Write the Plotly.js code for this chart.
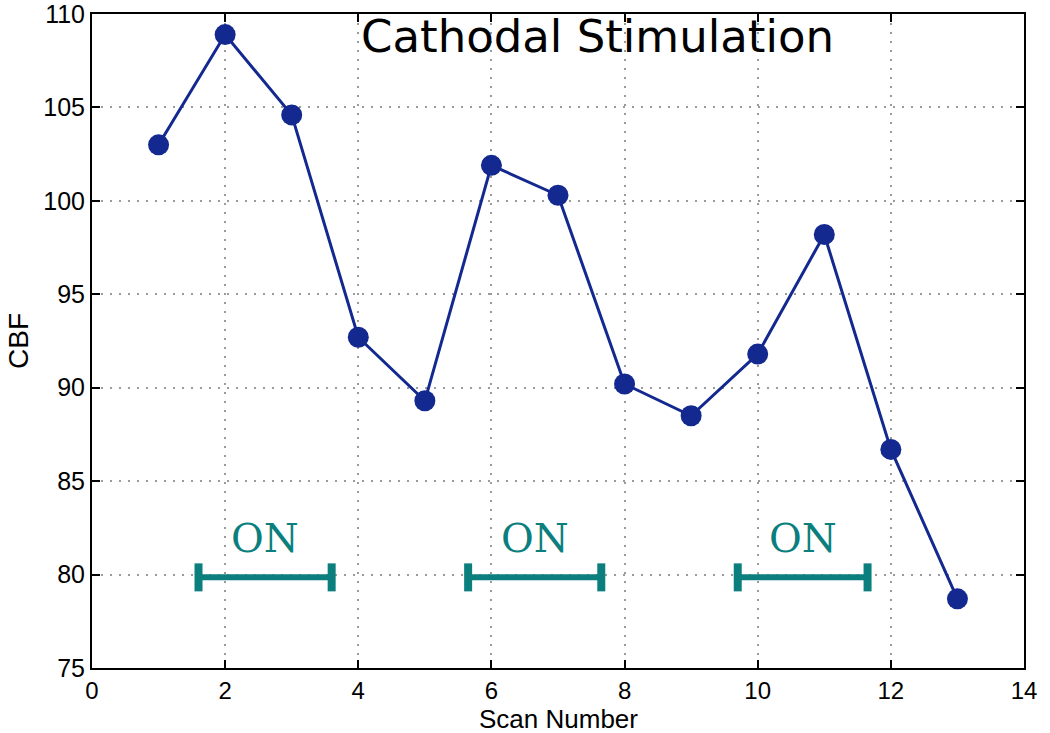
<!DOCTYPE html>
<html><head><meta charset="utf-8">
<script src="https://cdn.plot.ly/plotly-3.0.1.min.js"></script>
<style>html,body{margin:0;padding:0;background:#fff}</style>
</head><body><div id="chart" style="width:1050px;height:733px"></div>
<script>
const scanNumber = [1,2,3,4,5,6,7,8,9,10,11,12,13];
const cbf = [103.0,108.9,104.6,92.7,89.3,101.9,100.3,90.2,88.5,91.8,98.2,86.7,78.7];
const onStart = [1.6,5.65,9.7];
const onEnd = [3.6,7.65,11.65];
const onLevel = 79.85;
const onLabelLevel = 81.95;
const onLabel = "ON";
const titleText = "Cathodal Stimulation";
const xTitle = "Scan Number";
const yTitle = "CBF";
const xTicks = [0,2,4,6,8,10,12,14];
const yTicks = [75,80,85,90,95,100,105,110];

const teal = "#0b7f7d";
const blue = "#13298f";
const sans = "Liberation Sans, Arial, sans-serif";
const traces = [{
  x: scanNumber, y: cbf, mode: "lines+markers", type: "scatter",
  line: {color: blue, width: 3},
  marker: {color: blue, size: 21},
  showlegend: false, hoverinfo: "x+y"
}];
const barX = [], barY = [];
onStart.forEach((s, i) => { barX.push(s, onEnd[i], null); barY.push(onLevel, onLevel, null); });
traces.push({
  x: barX, y: barY, mode: "lines+markers", type: "scatter",
  line: {color: teal, width: 6},
  marker: {symbol: "line-ns", size: 20, line: {color: teal, width: 8}, color: teal},
  showlegend: false, hoverinfo: "skip"
});
const annotations = onStart.map((s, i) => ({
  x: (s + onEnd[i]) / 2, y: onLabelLevel, xref: "x", yref: "y", text: onLabel,
  showarrow: false, font: {family: "DejaVu Serif, Liberation Serif, serif", size: 40, color: teal}
}));
annotations.push({
  x: 0.542, y: 1.0, xref: "paper", yref: "paper", xanchor: "center", yanchor: "top", yshift: 6,
  text: titleText, showarrow: false,
  font: {family: "DejaVu Sans, sans-serif", size: 45, color: "#000"}
});
annotations.push({
  x: 0.5, y: 0, xref: "paper", yref: "paper", xanchor: "center", yanchor: "middle", yshift: -51,
  text: xTitle, showarrow: false, borderpad: 0, font: {family: sans, size: 26, color: "#000"}
});
annotations.push({
  x: 0, y: 0.5, xref: "paper", yref: "paper", xanchor: "center", yanchor: "middle", xshift: -74,
  text: yTitle, textangle: -90, showarrow: false, font: {family: sans, size: 28, color: "#000"}
});
const axisCommon = {
  showline: true, linecolor: "#000", linewidth: 2, mirror: "allticks",
  ticks: "inside", ticklen: 8, tickcolor: "#000", tickwidth: 1.5,
  showgrid: true, gridcolor: "#9a9a9a", griddash: "2px,7px", gridwidth: 2,
  zeroline: false, ticklabeloverflow: "allow",
  tickfont: {family: sans, size: 25, color: "#000"}
};
const layout = {
  width: 1050, height: 733,
  margin: {l: 92, r: 26, t: 14, b: 65},
  paper_bgcolor: "#fff", plot_bgcolor: "#fff",
  xaxis: Object.assign({}, axisCommon, {
    range: [0, 14], tickvals: xTicks, ticktext: xTicks.map(String),
    tickfont: {family: sans, size: 24, color: "#000"}
  }),
  yaxis: Object.assign({}, axisCommon, {
    range: [75, 110], tickvals: yTicks, ticktext: yTicks.map(String)
  }),
  annotations: annotations
};
Plotly.newPlot("chart", traces, layout, {displayModeBar: false});
</script></body></html>
